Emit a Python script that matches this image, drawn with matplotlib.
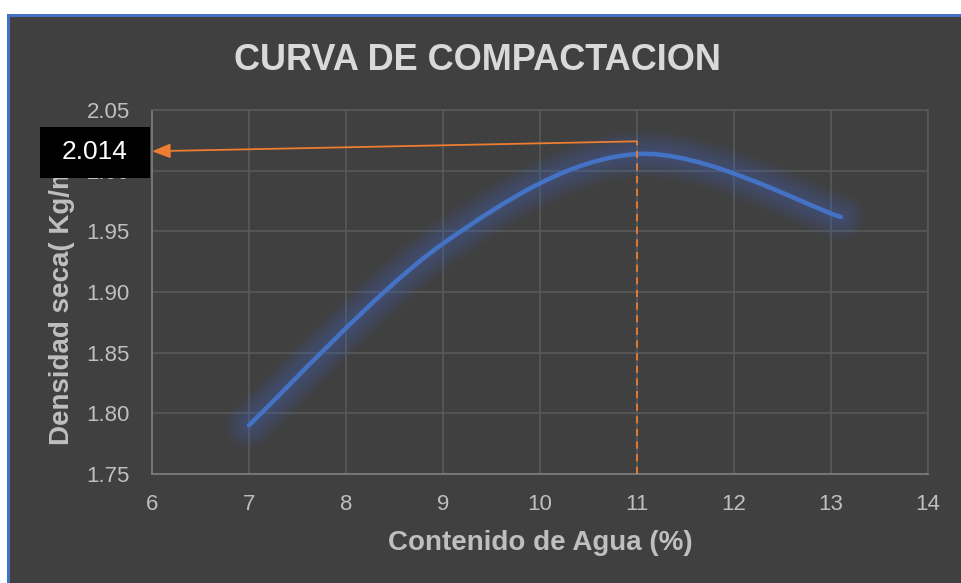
import numpy as np
import matplotlib.pyplot as plt
from matplotlib.path import Path
from matplotlib.patches import PathPatch, Rectangle

# Ensayo Proctor: contenido de agua (%) vs densidad seca (Kg/m3)
humedad = [7.0, 9.0, 11.0, 13.1]
densidad = [1.790, 1.940, 2.014, 1.962]

x_ticks = [6, 7, 8, 9, 10, 11, 12, 13, 14]
y_ticks = [1.75, 1.80, 1.85, 1.90, 1.95, 2.00, 2.05]

hum_optima = 11.0
dens_maxima = 2.014

FONDO = '#404040'
AZUL = '#4472C4'
NARANJA = '#ED7D31'
GRIS_TXT = '#bfbfbf'

plt.rcParams['font.family'] = ['Liberation Sans', 'DejaVu Sans']


def curva_suave(xs, ys):
    # bezier tipo "linea suavizada" de Excel
    pts = list(zip(xs, ys))
    n = len(pts)
    verts = [pts[0]]
    codes = [Path.MOVETO]
    for i in range(n - 1):
        p0 = pts[max(i - 1, 0)]
        p1 = pts[i]
        p2 = pts[i + 1]
        p3 = pts[min(i + 2, n - 1)]
        c1 = (p1[0] + (p2[0] - p0[0]) / 6, p1[1] + (p2[1] - p0[1]) / 6)
        c2 = (p2[0] - (p3[0] - p1[0]) / 6, p2[1] - (p3[1] - p1[1]) / 6)
        verts += [c1, c2, p2]
        codes += [Path.CURVE4] * 3
    return Path(verts, codes)


fig = plt.figure(figsize=(9.61, 5.83), dpi=100, facecolor=FONDO)
ax = fig.add_axes([0.1582, 0.1878, 0.8075, 0.6227])
ax.set_facecolor(FONDO)

ax.set_xlim(6, 14)
ax.set_ylim(1.75, 2.05)
ax.set_xticks(x_ticks)
ax.set_yticks(y_ticks)
ax.set_yticklabels(['%.2f' % v for v in y_ticks])
ax.grid(True, color='#595959', lw=1.2)
ax.set_axisbelow(True)
for s in ['top', 'right']:
    ax.spines[s].set_color('#595959')
    ax.spines[s].set_linewidth(1.2)
for s in ['left', 'bottom']:
    ax.spines[s].set_color('#7f7f7f')
    ax.spines[s].set_linewidth(1.2)
ax.tick_params(axis='x', length=0, pad=15, labelsize=16, labelcolor=GRIS_TXT)
ax.tick_params(axis='y', length=0, pad=16, labelsize=16, labelcolor=GRIS_TXT)

ax.set_xlabel('Contenido de Agua (%)', fontsize=20, fontweight='bold', color=GRIS_TXT)
ax.xaxis.set_label_coords(0.5, -0.155)
ax.set_ylabel('Densidad seca( Kg/m3)', fontsize=20, fontweight='bold', color=GRIS_TXT)
ax.yaxis.set_label_coords(-0.099, 0.5)

# curva con brillo
ruta = curva_suave(humedad, densidad)
for i in range(12):
    ax.add_patch(PathPatch(ruta, fill=False, ec=AZUL, lw=5 + 2.6 * i, alpha=0.04,
                           capstyle='round', joinstyle='round', zorder=2))
ax.add_patch(PathPatch(ruta, fill=False, ec=AZUL, lw=3.2, capstyle='round', zorder=3))

# lineas de humedad optima / densidad maxima
y_tope = dens_maxima + 0.0105
ax.plot([hum_optima, hum_optima], [1.75, y_tope], color=NARANJA, lw=1.3,
        ls=(0, (4, 3)), zorder=4)
ax.annotate('', xy=(6.0, dens_maxima + 0.0023), xytext=(hum_optima, y_tope),
            arrowprops=dict(arrowstyle='-|>,head_length=0.55,head_width=0.22',
                            mutation_scale=20, color=NARANJA, lw=1.3,
                            shrinkA=0, shrinkB=0),
            annotation_clip=False, zorder=4)

fig.add_artist(Rectangle((40 / 961, 1 - 178 / 583), 110 / 961, 51 / 583,
                         transform=fig.transFigure, fc='black', ec='none', zorder=5))
fig.text(95 / 961, 1 - 152 / 583, '%.3f' % dens_maxima, color='white', fontsize=19,
         ha='center', va='center', zorder=6)

fig.text(477 / 961, 1 - 70 / 583, 'CURVA DE COMPACTACION', fontsize=26,
         fontweight='bold', color='#d9d9d9', ha='center', va='baseline')

# marco
fig.add_artist(Rectangle((0, 1 - 14 / 583), 1, 14 / 583, transform=fig.transFigure,
                         fc='white', ec='none', zorder=7))
fig.add_artist(Rectangle((0, 0), 7 / 961, 1, transform=fig.transFigure,
                         fc='white', ec='none', zorder=7))
fig.add_artist(Rectangle((7 / 961, 1 - 16.5 / 583), 1, 2.5 / 583,
                         transform=fig.transFigure, fc=AZUL, ec='none', zorder=8))
fig.add_artist(Rectangle((7 / 961, 0), 3 / 961, 1 - 14 / 583,
                         transform=fig.transFigure, fc=AZUL, ec='none', zorder=8))

fig.savefig('out.png', dpi=100, facecolor=FONDO)
